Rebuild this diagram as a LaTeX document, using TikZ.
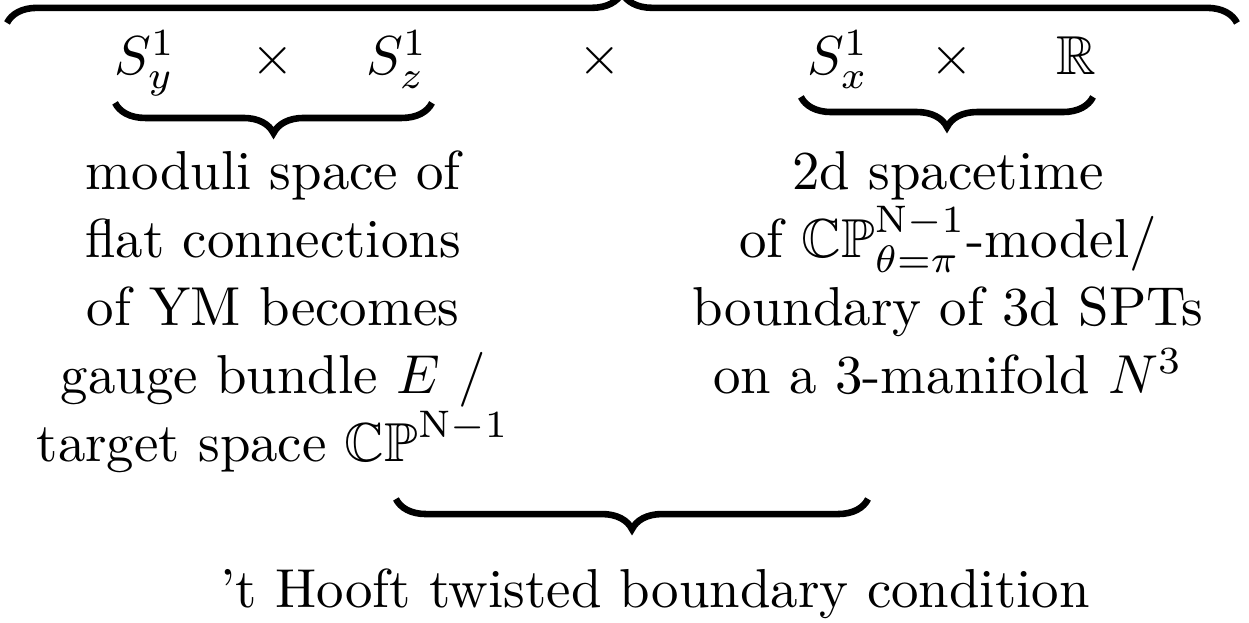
\documentclass[tikz,border=0pt]{standalone}
\usepackage{amsmath, amssymb}
\usepackage{tikz}
\usetikzlibrary{decorations.pathreplacing}

\tikzset{
  overbr/.style={decorate, decoration={brace, amplitude=5.5pt}, line width=1.2pt},
  underbr/.style={decorate, decoration={brace, amplitude=5.5pt, mirror}, line width=1.2pt},
  blocktext/.style={align=center, inner sep=0pt, anchor=north,
    font=\fontsize{10pt}{12.4pt}\selectfont}
}

\begin{document}
\begin{tikzpicture}
      \useasboundingbox (0,0) rectangle (8,3.99);
      % product of factors
      \node[anchor=base] (sy) at (0.929,3.510) {$S^1_y$};
      \node[anchor=base] (t1) at (1.749,3.510) {$\times$};
      \node[anchor=base] (sz) at (2.543,3.510) {$S^1_z$};
      \node[anchor=base] (t2) at (3.843,3.510) {$\times$};
      \node[anchor=base] (sx) at (5.367,3.510) {$S^1_x$};
      \node[anchor=base] (t3) at (6.098,3.510) {$\times$};
      \node[anchor=base] (rr) at (6.892,3.510) {$\mathbb{R}$};
      % brace end points
      \coordinate (topL) at (0.045,3.843);
      \coordinate (topR) at (7.923,3.843);
      \coordinate (leftL) at (0.737,3.331);
      \coordinate (leftR) at (2.767,3.331);
      \coordinate (rightL) at (5.130,3.369);
      \coordinate (rightR) at (7.001,3.369);
      \coordinate (lowL) at (2.536,0.794);
      \coordinate (lowR) at (5.560,0.794);
      \draw[overbr] (topL) -- (topR);
      \draw[underbr] (leftL) -- (leftR);
      \draw[underbr] (rightL) -- (rightR);
      \draw[underbr] (lowL) -- (lowR);
      % explanations
      \node[blocktext] (moduli) at (1.749,3.030)
        {moduli space of\\ flat connections\\ of YM becomes\\
         gauge bundle $E$ /\\ target space $\mathbb{CP}^{\mathrm{N}-1}$};
      \node[blocktext] (spacetime) at (6.072,3.030)
        {2d spacetime\\ of $\mathbb{CP}^{\mathrm{N}-1}_{\theta=\pi}$-model/\\
         boundary of 3d SPTs\\ on a 3-manifold $N^3$};
      \node[anchor=base] (twist) at (4.195,0.100) {'t Hooft twisted boundary condition};
    \end{tikzpicture}
\end{document}
